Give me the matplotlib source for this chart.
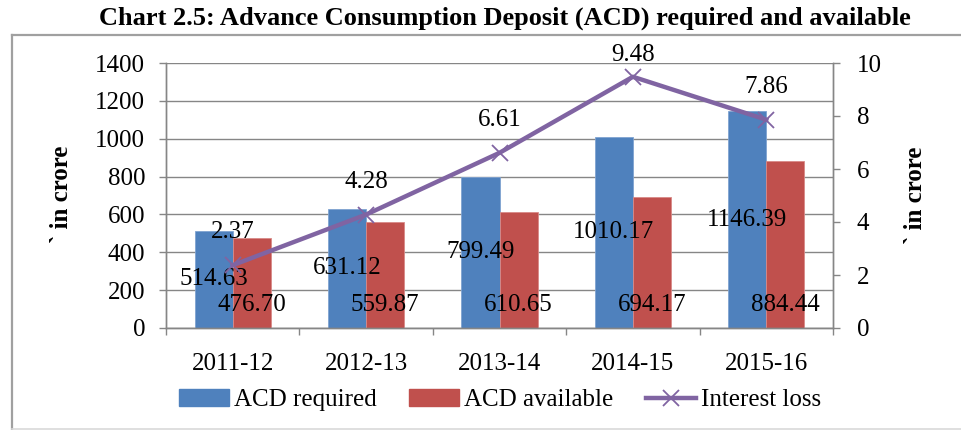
import matplotlib
matplotlib.use('Agg')
import matplotlib.pyplot as plt
from matplotlib.lines import Line2D
from matplotlib.patches import Patch
import numpy as np

years = ['2011-12', '2012-13', '2013-14', '2014-15', '2015-16']
acd_required = [514.63, 631.12, 799.49, 1010.17, 1146.39]
acd_available = [476.70, 559.87, 610.65, 694.17, 884.44]
interest_loss = [2.37, 4.28, 6.61, 9.48, 7.86]

BLUE = '#4F81BD'
RED = '#C0504D'
PURPLE = '#8064A2'
GREY = '#868686'

plt.rcParams['font.family'] = ['Liberation Serif', 'DejaVu Serif']
plt.rcParams['font.size'] = 18

W, H = 961, 430
fig = plt.figure(figsize=(W / 100, H / 100), dpi=100)
ax = fig.add_axes([166 / W, 1 - 328 / H, (833 - 166) / W, (328 - 63) / H])
ax2 = ax.twinx()

x = np.arange(len(years))
w = 0.285
ax.bar(x - w / 2, acd_required, w, color=BLUE, edgecolor='#7fa3d1', linewidth=0.6, zorder=2)
ax.bar(x + w / 2, acd_available, w, color=RED, edgecolor='#d88a88', linewidth=0.6, zorder=2)

ax.set_xlim(-0.5, len(years) - 0.5)
ax.set_ylim(0, 1400)
ax.set_yticks(range(0, 1401, 200))
ax.set_xticks(x)
ax.set_xticklabels(years)
ax.set_xticks(np.arange(-0.5, len(years), 1), minor=True)
ax.tick_params(axis='x', which='major', length=0, pad=18)
ax.tick_params(axis='x', which='minor', length=5, color=GREY, width=1)
ax.tick_params(axis='y', length=5, color=GREY, width=1, pad=10)
ax.yaxis.grid(True, color=GREY, linewidth=1)
ax.set_axisbelow(True)

ax2.plot(x, interest_loss, color=PURPLE, linewidth=3.2, marker='x',
         markersize=11, markeredgewidth=1.3, zorder=3)
ax2.set_ylim(0, 10)
ax2.set_yticks(range(0, 11, 2))
ax2.tick_params(axis='y', length=5, color=GREY, width=1, pad=12)

for a in (ax, ax2):
    for s in a.spines.values():
        s.set_color(GREY)
        s.set_linewidth(1)
    a.spines['top'].set_visible(False)

# data labels
for i, v in enumerate(acd_required):
    ax.text(i - w / 2, v / 2, f'{v:.2f}', ha='center', va='center', zorder=4)
for i, v in enumerate(acd_available):
    ax.annotate(f'{v:.2f}', (i + w / 2, 0), xytext=(0, 23 * 0.72),
                textcoords='offset points', ha='center', va='center', zorder=4)
line_label_dy = [33, 33, 33, 22, 33]
for i, v in enumerate(interest_loss):
    ax2.annotate(f'{v:.2f}', (i, v), xytext=(0, line_label_dy[i] * 0.72),
                 textcoords='offset points', ha='center', va='center')

fig.text(62 / W, 1 - 194 / H, '` in crore', rotation=90, ha='center', va='center',
         fontweight='bold')
fig.text(916 / W, 1 - 195 / H, '` in crore', rotation=90, ha='center', va='center',
         fontweight='bold')

fig.text(505 / W, 1 - 18 / H, 'Chart 2.5: Advance Consumption Deposit (ACD) required and available',
         ha='center', va='center', fontweight='bold', fontsize=19)

handles = [Patch(color=BLUE), Patch(color=RED),
           Line2D([], [], color=PURPLE, linewidth=3.2, marker='x', markersize=11, markeredgewidth=1.3)]
fig.legend(handles, ['ACD required', 'ACD available', 'Interest loss'],
           loc='center', bbox_to_anchor=(500 / W, 1 - 400 / H), ncol=3, frameon=False,
           handlelength=2.0, handletextpad=0.2, columnspacing=1.3, borderpad=0)

# chart border
fig.add_artist(Line2D([12 / W, 12 / W], [1 - 35 / H, 1 - 429 / H], color='#a0a0a0', linewidth=1.6))
fig.add_artist(Line2D([12 / W, 1.0], [1 - 35 / H, 1 - 35 / H], color='#a0a0a0', linewidth=1.6))
fig.add_artist(Line2D([12 / W, 1.0], [1 - 429 / H, 1 - 429 / H], color='#d9d9d9', linewidth=1.2))

fig.savefig('out.png', dpi=100)
